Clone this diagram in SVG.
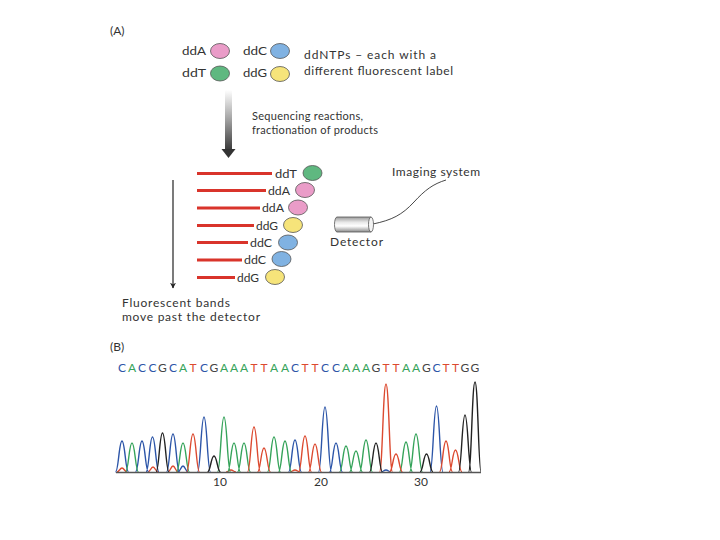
<svg xmlns="http://www.w3.org/2000/svg" width="720" height="540" viewBox="0 0 720 540">
<defs>
<linearGradient id="barGrad" x1="0" y1="0" x2="0" y2="1">
<stop offset="0" stop-color="#ffffff"/>
<stop offset="0.5" stop-color="#a0a0a0"/>
<stop offset="1" stop-color="#3a3a3a"/>
</linearGradient>
<linearGradient id="cylGrad" x1="0" y1="0" x2="0" y2="1">
<stop offset="0" stop-color="#9a9a9a"/>
<stop offset="0.35" stop-color="#e8e8e8"/>
<stop offset="0.6" stop-color="#ffffff"/>
<stop offset="1" stop-color="#8a8a8a"/>
</linearGradient>
<marker id="arrowBlack" viewBox="0 0 10 10" refX="9" refY="5" markerWidth="6" markerHeight="6" orient="auto" markerUnits="userSpaceOnUse">
<path d="M0,0 L10,5 L0,10 L3,5 z" fill="#222"/>
</marker>
</defs>
<style>
text{font-family:Lato,"Liberation Sans",sans-serif;font-size:12px;fill:#333}
.sm{font-size:11px}
.ell{stroke:#555;stroke-width:0.8}
.pink{fill:#ea9cc8}.blue{fill:#80b2e2}.green{fill:#5fb880}.yellow{fill:#f6e47a}
.band{stroke:#d9342b;stroke-width:3}
.pk{fill:none;stroke-width:1.4;stroke-linejoin:round}
.pC{stroke:#2c55a8}.pA{stroke:#35a35a}.pT{stroke:#dc4a30}.pG{stroke:#222}
.sC{fill:#2c55a8}.sA{fill:#35a35a}.sT{fill:#dc4a30}.sG{fill:#444}
</style>
<rect width="720" height="540" fill="#ffffff"/>

<text x="110" y="35">(A)</text>

<g id="legend">
<text x="182" y="55" textLength="24" lengthAdjust="spacingAndGlyphs">ddA</text>
<ellipse class="ell pink" cx="220" cy="51" rx="9.5" ry="7.5"/>
<text x="243" y="55" textLength="24" lengthAdjust="spacingAndGlyphs">ddC</text>
<ellipse class="ell blue" cx="280" cy="51" rx="9.5" ry="7.5"/>
<text x="182" y="77" textLength="24" lengthAdjust="spacingAndGlyphs">ddT</text>
<ellipse class="ell green" cx="220" cy="73.5" rx="9.5" ry="7.5"/>
<text x="243" y="77" textLength="24" lengthAdjust="spacingAndGlyphs">ddG</text>
<ellipse class="ell yellow" cx="280" cy="74" rx="9.5" ry="7.5"/>
<text x="304" y="59" textLength="132" lengthAdjust="spacing">ddNTPs – each with a</text>
<text x="304" y="75" textLength="149" lengthAdjust="spacing">different fluorescent label</text>
</g>

<g id="reaction-arrow">
<rect x="225" y="90" width="7" height="60" fill="url(#barGrad)"/>
<path d="M221.5,149 L235.5,149 L228.5,158 z" fill="#333"/>
<text class="sm" x="252" y="120" textLength="111" lengthAdjust="spacing">Sequencing reactions,</text>
<text class="sm" x="252" y="134" textLength="126" lengthAdjust="spacing">fractionation of products</text>
</g>

<g id="connectors">
<line x1="173" y1="180" x2="173" y2="288" stroke="#222" stroke-width="1.2" marker-end="url(#arrowBlack)"/>
<path d="M373,224 C392,220 402,215 414,202 C425,190 433,184 446,180" fill="none" stroke="#333" stroke-width="0.9"/>
</g>

<g id="bands">
<line class="band" x1="197" y1="173.5" x2="272" y2="173.5"/>
<line class="band" x1="197" y1="190.5" x2="266" y2="190.5"/>
<line class="band" x1="197" y1="208" x2="260" y2="208"/>
<line class="band" x1="197" y1="225.5" x2="254" y2="225.5"/>
<line class="band" x1="197" y1="242.5" x2="248" y2="242.5"/>
<line class="band" x1="197" y1="260" x2="242" y2="260"/>
<line class="band" x1="197" y1="277.5" x2="235" y2="277.5"/>
<text x="275" y="177.5" textLength="22" lengthAdjust="spacingAndGlyphs">ddT</text>
<ellipse class="ell green" cx="312.5" cy="173" rx="9.5" ry="7.5"/>
<text x="268" y="194.5" textLength="22" lengthAdjust="spacingAndGlyphs">ddA</text>
<ellipse class="ell pink" cx="305" cy="190" rx="9.5" ry="7.5"/>
<text x="262" y="212" textLength="22" lengthAdjust="spacingAndGlyphs">ddA</text>
<ellipse class="ell pink" cx="298" cy="207.5" rx="9.5" ry="7.5"/>
<text x="256" y="229.5" textLength="22" lengthAdjust="spacingAndGlyphs">ddG</text>
<ellipse class="ell yellow" cx="293" cy="225" rx="9.5" ry="7.5"/>
<text x="250" y="246.5" textLength="22" lengthAdjust="spacingAndGlyphs">ddC</text>
<ellipse class="ell blue" cx="288" cy="242.5" rx="9.5" ry="7.5"/>
<text x="244" y="264" textLength="22" lengthAdjust="spacingAndGlyphs">ddC</text>
<ellipse class="ell blue" cx="281.5" cy="259" rx="9.5" ry="7.5"/>
<text x="237" y="281.5" textLength="22" lengthAdjust="spacingAndGlyphs">ddG</text>
<ellipse class="ell yellow" cx="275" cy="277" rx="9.5" ry="7.5"/>
</g>

<g id="detector">
<path d="M337,217 L371,217 L371,232 L337,232 A2.5,7.5 0 0 1 337,217 z" fill="url(#cylGrad)" stroke="#555" stroke-width="0.8"/>
<ellipse cx="371" cy="224.5" rx="2.5" ry="7.5" fill="#f4f4f4" stroke="#555" stroke-width="0.8"/>
<text x="330" y="246" textLength="53" lengthAdjust="spacing">Detector</text>
</g>

<g id="imaging-system">
<text x="392" y="176" textLength="88" lengthAdjust="spacing">Imaging system</text>
</g>

<g id="bands-caption">
<text x="122" y="307" textLength="108" lengthAdjust="spacing">Fluorescent bands</text>
<text x="122" y="321" textLength="138" lengthAdjust="spacing">move past the detector</text>
</g>

<text x="110" y="351">(B)</text>

<g id="sequence">
<text y="372" text-anchor="middle"><tspan class="sC" x="122">C</tspan><tspan class="sA" x="132">A</tspan><tspan class="sC" x="142">C</tspan><tspan class="sC" x="152.5">C</tspan><tspan class="sG" x="162.5">G</tspan><tspan class="sC" x="173">C</tspan><tspan class="sA" x="183">A</tspan><tspan class="sT" x="193">T</tspan><tspan class="sC" x="204">C</tspan><tspan class="sG" x="214">G</tspan><tspan class="sA" x="224">A</tspan><tspan class="sA" x="234">A</tspan><tspan class="sA" x="244">A</tspan><tspan class="sT" x="254">T</tspan><tspan class="sT" x="264">T</tspan><tspan class="sA" x="274">A</tspan><tspan class="sA" x="285">A</tspan><tspan class="sC" x="295">C</tspan><tspan class="sT" x="305">T</tspan><tspan class="sT" x="315">T</tspan><tspan class="sC" x="325">C</tspan><tspan class="sC" x="336">C</tspan><tspan class="sA" x="346">A</tspan><tspan class="sA" x="356">A</tspan><tspan class="sA" x="366">A</tspan><tspan class="sG" x="376">G</tspan><tspan class="sT" x="386">T</tspan><tspan class="sT" x="396">T</tspan><tspan class="sA" x="406">A</tspan><tspan class="sA" x="416">A</tspan><tspan class="sG" x="426.5">G</tspan><tspan class="sC" x="436.5">C</tspan><tspan class="sT" x="446">T</tspan><tspan class="sT" x="455.5">T</tspan><tspan class="sG" x="465">G</tspan><tspan class="sG" x="475">G</tspan></text>
</g>

<g id="chromatogram">
<path class="pk pT" d="M117,472C119,472 120,468 122,468S125,472 127,472 M148,472C150,472 151,467 153,467S156,472 158,472 M168,472C170,472 171,466 173,466S176,472 178,472 M226,472C228,472 229,470 231,470S234,472 236,472 M290,472C292,472 293,470 295,470S298,472 300,472"/>
<path class="pk pC" d="M178,472C180,472 181,466 183,466S186,472 188,472 M381,472C383,472 384,470 386,470S389,472 391,472"/>
<path class="pk pC" d="M115.5,472C118.5,472 119,441 122,441S125.5,472 128.5,472 M135.5,472C138.5,472 139,441 142,441S145.5,472 148.5,472 M146,472C149,472 149.5,437 152.5,437S156,472 159,472 M166.5,472C169.5,472 170,434 173,434S176.5,472 179.5,472 M197.5,472C200.5,472 201,417 204,417S207.5,472 210.5,472 M288.5,472C291.5,472 292,440 295,440S298.5,472 301.5,472 M318.5,472C321.5,472 322,407 325,407S328.5,472 331.5,472 M329.5,472C332.5,472 333,443 336,443S339.5,472 342.5,472 M430,472C433,472 433.5,406 436.5,406S440,472 443,472"/>
<path class="pk pA" d="M125.5,472C128.5,472 129,443 132,443S135.5,472 138.5,472 M176.5,472C179.5,472 180,443 183,443S186.5,472 189.5,472 M217.5,472C220.5,472 221,417 224,417S227.5,472 230.5,472 M227.5,472C230.5,472 231,443 234,443S237.5,472 240.5,472 M237.5,472C240.5,472 241,443 244,443S247.5,472 250.5,472 M267.5,472C270.5,472 271,437 274,437S277.5,472 280.5,472 M278.5,472C281.5,472 282,441 285,441S288.5,472 291.5,472 M339.5,472C342.5,472 343,446 346,446S349.5,472 352.5,472 M349.5,472C352.5,472 353,451 356,451S359.5,472 362.5,472 M359.5,472C362.5,472 363,440 366,440S369.5,472 372.5,472 M399.5,472C402.5,472 403,442 406,442S409.5,472 412.5,472 M409.5,472C412.5,472 413,434 416,434S419.5,472 422.5,472"/>
<path class="pk pT" d="M186.5,472C189.5,472 190,434 193,434S196.5,472 199.5,472 M247.5,472C250.5,472 251,427 254,427S257.5,472 260.5,472 M257.5,472C260.5,472 261,448 264,448S267.5,472 270.5,472 M298.5,472C301.5,472 302,436 305,436S308.5,472 311.5,472 M308.5,472C311.5,472 312,444 315,444S318.5,472 321.5,472 M379.5,472C382.5,472 383,384 386,384S389.5,472 392.5,472 M389.5,472C392.5,472 393,454 396,454S399.5,472 402.5,472 M439.5,472C442.5,472 443,441 446,441S449.5,472 452.5,472 M449,472C452,472 452.5,450 455.5,450S459,472 462,472"/>
<path class="pk pG" d="M156,472C159,472 159.5,433 162.5,433S166,472 169,472 M207.5,472C210.5,472 211,456 214,456S217.5,472 220.5,472 M369.5,472C372.5,472 373,443 376,443S379.5,472 382.5,472 M420,472C423,472 423.5,454 426.5,454S430,472 433,472 M458.5,472C461.5,472 462,415 465,415S468.5,472 471.5,472 M468.5,472C471.5,472 472,382 475,382S478.5,472 481,472"/>
<line x1="116" y1="472.5" x2="481" y2="472.5" stroke="#555" stroke-width="1.5"/>
<text x="220" y="486" text-anchor="middle">10</text>
<text x="321" y="486" text-anchor="middle">20</text>
<text x="421" y="486" text-anchor="middle">30</text>
</g>
</svg>
